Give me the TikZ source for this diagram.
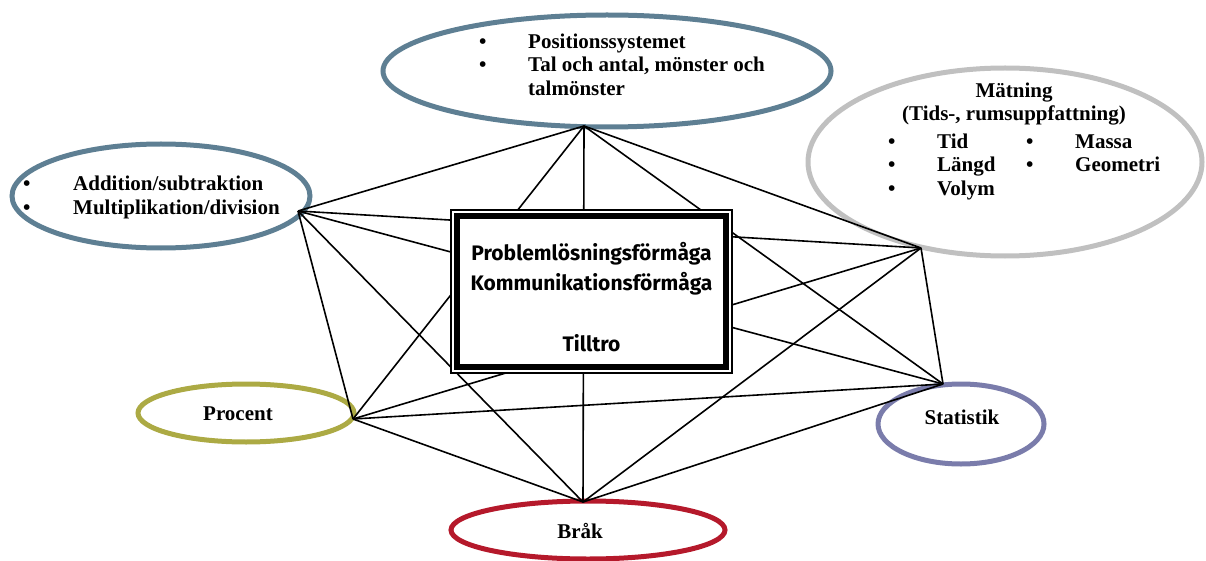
\documentclass[tikz,border=0pt]{standalone}
\usepackage{fontspec}
\setmainfont{Liberation Serif}
\newfontfamily\boxfont{Fira Sans}
\usetikzlibrary{calc}
\definecolor{slateblue}{HTML}{5E7F93}
\definecolor{lightgrey}{HTML}{C0C0C0}
\definecolor{olive}{HTML}{ACAA44}
\definecolor{lavender}{HTML}{7A7CAB}
\definecolor{crimson}{HTML}{B5192B}

\begin{document}
\begin{tikzpicture}[x=1pt,y=-1pt,
        ring/.style={line width=5pt},
        link/.style={line width=1.6pt},
        lbl/.style={font=\bfseries\fontsize{21}{23.5}\selectfont, inner sep=0pt},
        corebox/.style={draw, fill=white, line width=1.4pt, minimum width=281pt, minimum height=163pt},
        coretxt/.style={font=\boxfont\bfseries\fontsize{21}{30}\selectfont, align=center, inner sep=0pt}]
    \useasboundingbox (0,0) rectangle (1206,561);
    % areas
    \draw[ring, slateblue] (607,71) ellipse (224pt and 56pt)
        (161,196) ellipse (149pt and 52pt);
    \draw[ring, lightgrey] (1005,162) ellipse (197pt and 94pt);
    \draw[ring, olive] (246,413) ellipse (108pt and 29pt);
    \draw[ring, lavender] (961,424) ellipse (83pt and 40pt);
    \draw[ring, crimson] (588,530) ellipse (137pt and 29pt);
    % hubs
    \coordinate (tal) at (584,126);
    \coordinate (rakne) at (298,211);
    \coordinate (matning) at (921,248);
    \coordinate (procent) at (353,419);
    \coordinate (statistik) at (943,384);
    \coordinate (brak) at (583,502);
    \foreach \a/\b in {tal/rakne, tal/matning, tal/procent, tal/statistik, tal/brak,
        rakne/matning, rakne/procent, rakne/statistik, rakne/brak,
        matning/procent, matning/statistik, matning/brak,
        procent/statistik, procent/brak, statistik/brak}
        \draw[link] (\a) -- (\b);
    % centre
    \node[corebox] (core) at (591.5,291.5) {};
    \draw[line width=6pt] ([shift={(7,7)}]core.north west) rectangle ([shift={(-7,-7)}]core.south east);
    \node[coretxt] (coretext) at ([yshift=-6]core.center)
        {Problemlösningsförmåga\\Kommunikationsförmåga\\[31pt]Tilltro};
    % texts
    \node[lbl, anchor=west] (taltext) at (479,67) {\begin{tabular}{@{}p{49pt}@{}l@{}}
        \textbullet & Positionssystemet\\
        \textbullet & Tal och antal, mönster och\\
        & talmönster\end{tabular}};
    \node[lbl, anchor=west] (raknetext) at (23,198) {\begin{tabular}{@{}p{50pt}@{}l@{}}
        \textbullet & Addition/subtraktion\\
        \textbullet & Multiplikation/division\end{tabular}};
    \node[lbl, align=center] (matrubrik) at (1014,104) {Mätning\\(Tids-, rumsuppfattning)};
    \node[lbl, anchor=west] (mattext) at (888,167) {\begin{tabular}{@{}p{49pt}@{}p{89pt}@{}p{49pt}@{}l@{}}
        \textbullet & Tid & \textbullet & Massa\\
        \textbullet & Längd & \textbullet & Geometri\\
        \textbullet & Volym & & \end{tabular}};
    \node[lbl] (procenttext) at (238,414) {Procent};
    \node[lbl] (statistiktext) at (962,417) {Statistik};
    \node[lbl] (braktext) at (580,531) {Bråk};
\end{tikzpicture}
\end{document}
